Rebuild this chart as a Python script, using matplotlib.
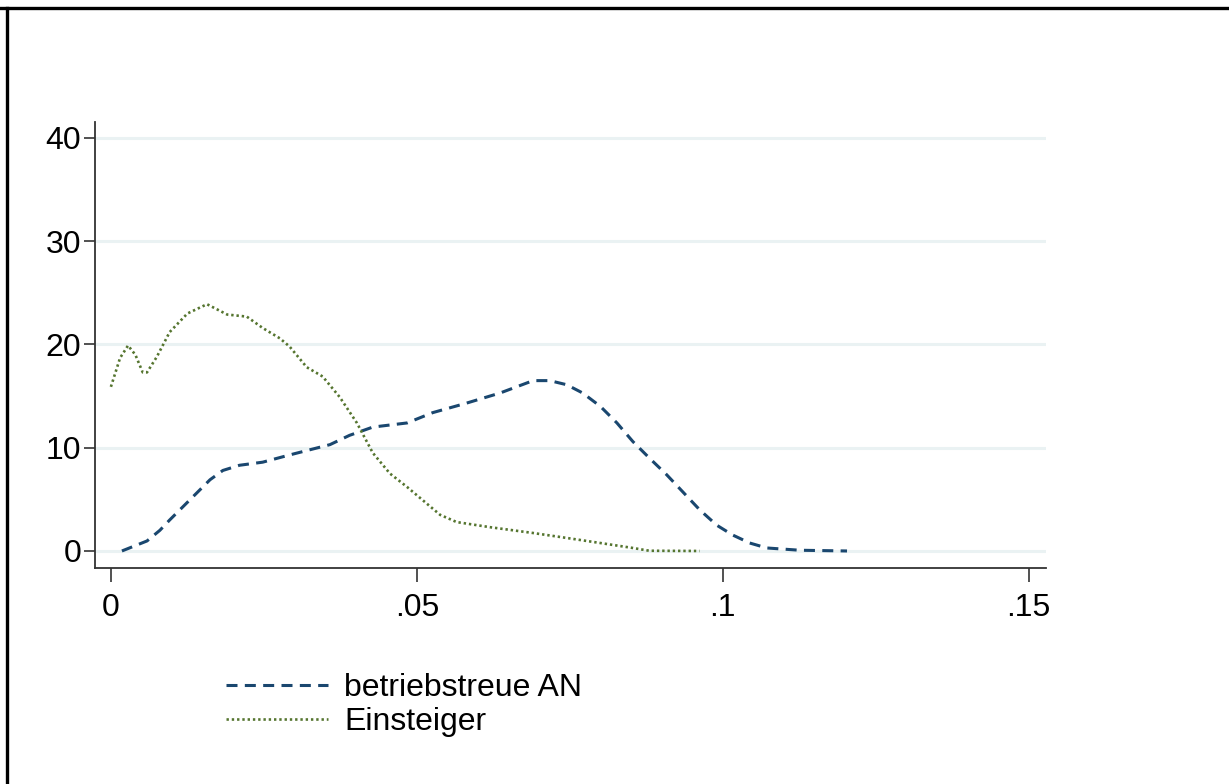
import matplotlib
matplotlib.use("Agg")
import matplotlib.pyplot as plt
from matplotlib.lines import Line2D

plt.rcParams['font.family'] = ['Liberation Sans', 'DejaVu Sans']

# kernel density curves
x_treu = [0.0018, 0.0059, 0.008, 0.0096, 0.0118, 0.014, 0.0162, 0.0183, 0.021,
          0.0248, 0.0292, 0.0325, 0.0358, 0.039, 0.0428, 0.0484, 0.0526, 0.058,
          0.0636, 0.0663, 0.069, 0.0717, 0.0745, 0.0771, 0.080, 0.0827, 0.0853,
          0.088, 0.0908, 0.0935, 0.0962, 0.099, 0.1016, 0.1044, 0.1072, 0.1126, 0.1203]
y_treu = [0.0, 0.97, 2.0, 3.0, 4.3, 5.6, 6.9, 7.8, 8.3,
          8.6, 9.3, 9.8, 10.3, 11.2, 12.0, 12.4, 13.4, 14.3,
          15.3, 15.9, 16.5, 16.5, 16.1, 15.3, 14.0, 12.4, 10.6,
          9.0, 7.4, 5.7, 4.0, 2.5, 1.55, 0.77, 0.29, 0.07, 0.0]

x_ein = [0.0, 0.0015, 0.0028, 0.004, 0.0052, 0.0059, 0.0075, 0.0096, 0.0125,
         0.0157, 0.019, 0.0222, 0.0248, 0.0276, 0.0292, 0.032, 0.0346, 0.0374,
         0.0402, 0.0428, 0.0456, 0.0484, 0.051, 0.0538, 0.0565, 0.062, 0.069,
         0.0745, 0.080, 0.0853, 0.088, 0.0962]
y_ein = [15.9, 18.7, 19.9, 19.0, 17.3, 17.3, 18.8, 21.2, 23.0,
         23.9, 22.9, 22.7, 21.6, 20.6, 19.8, 17.8, 16.9, 14.9,
         12.4, 9.5, 7.5, 6.2, 4.9, 3.5, 2.8, 2.3, 1.74,
         1.26, 0.77, 0.29, 0.02, 0.0]

labels = ["betriebstreue AN", "Einsteiger"]
xticks = [0, 0.05, 0.1, 0.15]
xticklabels = ["0", ".05", ".1", ".15"]
yticks = [0, 10, 20, 30, 40]

blue = "#1a476f"
green = "#55752f"

fig = plt.figure(figsize=(12.29, 7.84), dpi=100)
ax = fig.add_axes([0.0773, 0.2755, 0.7737, 0.5689])

for yt in yticks:
    ax.axhline(yt, color="#eaf2f3", lw=2.2, zorder=0)

l1, = ax.plot(x_treu, y_treu, color=blue, lw=2.2, dashes=(3.6, 2.4), label=labels[0])
l2, = ax.plot(x_ein, y_ein, color=green, lw=1.9, dashes=(0.9, 1.1), label=labels[1])

ax.set_xlim(-0.0026, 0.1528)
ax.set_ylim(-1.65, 41.55)
ax.set_xticks(xticks)
ax.set_xticklabels(xticklabels)
ax.set_yticks(yticks)
for s in ["top", "right"]:
    ax.spines[s].set_visible(False)
for s in ["left", "bottom"]:
    ax.spines[s].set_linewidth(1.3)
    ax.spines[s].set_color("#333333")
ax.tick_params(axis="both", labelsize=23, color="#333333", width=1.2)
ax.tick_params(axis="y", length=8, pad=2)
ax.tick_params(axis="x", length=10, pad=8)

fig.legend(handles=[l1, l2], loc="upper left", bbox_to_anchor=(226 / 1229, 1 - 673 / 784),
           frameon=False, fontsize=23, handlelength=3.2, handletextpad=0.5,
           labelspacing=0.12, borderpad=0, borderaxespad=0)

# outer frame (top and left edges visible in the crop)
fig.add_artist(Line2D([0, 1], [1 - 7.5 / 784, 1 - 7.5 / 784], transform=fig.transFigure,
                      color="black", lw=2.4))
fig.add_artist(Line2D([7 / 1229, 7 / 1229], [0, 1 - 7.5 / 784], transform=fig.transFigure,
                      color="black", lw=2.4))

fig.savefig("out.png", dpi=100)
